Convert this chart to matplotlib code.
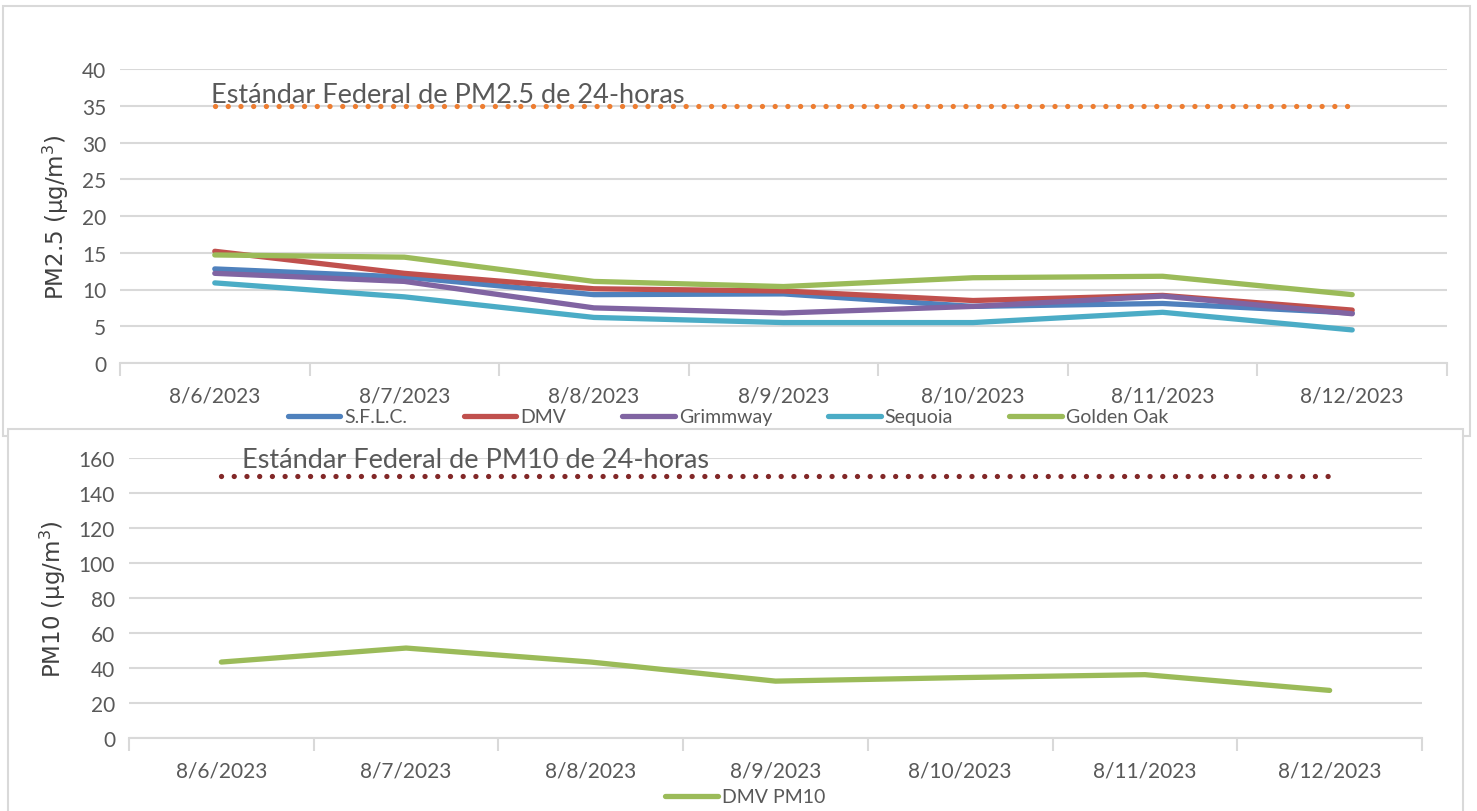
import matplotlib
matplotlib.use("Agg")
import matplotlib.pyplot as plt
from matplotlib.patches import Rectangle

# --- Data ---
dates = ["8/6/2023", "8/7/2023", "8/8/2023", "8/9/2023", "8/10/2023", "8/11/2023", "8/12/2023"]
sflc = [12.8, 11.7, 9.3, 9.4, 7.7, 8.1, 6.8]
dmv = [15.2, 12.2, 10.1, 9.8, 8.5, 9.2, 7.2]
grimmway = [12.2, 11.1, 7.5, 6.8, 7.7, 9.1, 6.7]
sequoia = [10.9, 9.0, 6.2, 5.5, 5.5, 6.9, 4.5]
golden_oak = [14.7, 14.4, 11.1, 10.4, 11.6, 11.8, 9.3]
dmv_pm10 = [43.4, 51.4, 43.4, 32.5, 34.5, 36.2, 27.2]
pm25_std = 35
pm10_std = 150

W, H = 1477, 812
plt.rcParams['font.family'] = ['Lato', 'DejaVu Sans']

TXT = "#595959"
GRID = "#D9D9D9"

fig = plt.figure(figsize=(W / 100, H / 100), dpi=100)

# chart borders (behind the axes)
fig.patches.append(Rectangle((3 / W, 1 - 437 / H), 1467 / W, 430 / H, transform=fig.transFigure,
                             fill=False, ec="#D9D9D9", lw=1.5, zorder=-10))
fig.patches.append(Rectangle((8 / W, -0.01), 1455 / W, 1 - 430 / H + 0.01, transform=fig.transFigure,
                             fc="white", ec="#D9D9D9", lw=1.5, zorder=-5))


def ax_rect(l, r, top, bot):
    return [l / W, 1 - bot / H, (r - l) / W, (bot - top) / H]


def style(ax, ymax, step):
    x = range(len(dates))
    ax.set_xlim(-0.5, len(dates) - 0.5)
    ax.set_ylim(0, ymax)
    ax.set_yticks(range(0, ymax + 1, step))
    ax.set_xticks([i - 0.5 for i in range(len(dates) + 1)])
    ax.set_xticklabels([])
    ax.set_xticks(list(x), minor=True)
    ax.set_xticklabels(dates, minor=True)
    ax.tick_params(axis="x", which="major", length=9, width=1.5, color=GRID, direction="out")
    ax.tick_params(axis="x", which="minor", length=0, pad=16, labelsize=15, labelcolor=TXT)
    ax.tick_params(axis="y", length=0, pad=10, labelsize=15, labelcolor=TXT)
    ax.grid(axis="y", color=GRID, lw=1.5)
    ax.set_axisbelow(True)
    for s in ["top", "right", "left"]:
        ax.spines[s].set_visible(False)
    ax.spines["bottom"].set_color(GRID)
    ax.spines["bottom"].set_linewidth(1.5)
    ax.patch.set_alpha(0)


# --- PM2.5 chart ---
ax1 = fig.add_axes(ax_rect(120, 1447, 70, 364))
x = list(range(len(dates)))
lw = 3.8
ax1.plot(x, [pm25_std] * len(x), color="#ED7D31", lw=3.8, linestyle=(0, (0.01, 2.4)),
         dash_capstyle="round")
series = [("S.F.L.C.", sflc, "#4F81BD"), ("DMV", dmv, "#C0504D"), ("Grimmway", grimmway, "#8064A2"),
          ("Sequoia", sequoia, "#4BACC6"), ("Golden Oak", golden_oak, "#9BBB59")]
handles = []
for name, vals, c in series:
    h, = ax1.plot(x, vals, color=c, lw=lw, solid_capstyle="round", solid_joinstyle="round", label=name)
    handles.append(h)
style(ax1, 40, 5)
ax1.text(-0.02, 35.5, "Estándar Federal de PM2.5 de 24-horas", fontsize=19.5, color=TXT, va="baseline")
ax1.set_ylabel("PM2.5 (µg/m$^3$)", fontsize=16.5, color="#404040", family="DejaVu Sans", labelpad=8)
fig.legend(handles=handles, loc="center", bbox_to_anchor=(728 / W, 1 - 418 / H), ncol=5, frameon=False,
           fontsize=14, labelcolor=TXT, handlelength=2.7, handletextpad=0.2, columnspacing=2.9,
           borderpad=0)

# --- PM10 chart ---
ax2 = fig.add_axes(ax_rect(129, 1422, 459, 739))
ax2.plot(x, [pm10_std] * len(x), color="#822828", lw=3.8, linestyle=(0, (0.01, 2.4)),
         dash_capstyle="round")
h2, = ax2.plot(x, dmv_pm10, color="#9BBB59", lw=lw, solid_capstyle="round", solid_joinstyle="round",
               label="DMV PM10")
style(ax2, 160, 20)
ax2.text(0.11, 155.0, "Estándar Federal de PM10 de 24-horas", fontsize=19.5, color=TXT, va="baseline")
ax2.set_ylabel("PM10 (µg/m$^3$)", fontsize=16.5, color="#404040", family="DejaVu Sans", labelpad=8)
fig.legend(handles=[h2], loc="center", bbox_to_anchor=(745 / W, 1 - 798 / H), frameon=False,
           fontsize=14, labelcolor=TXT, handlelength=2.7, handletextpad=0.2, borderpad=0)

fig.savefig("out.png", dpi=100)
